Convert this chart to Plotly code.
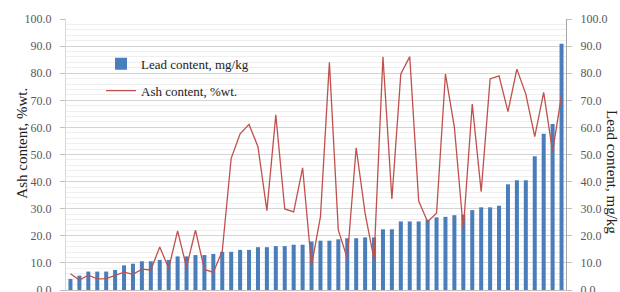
import plotly.graph_objects as go

samples = list(range(1, 57))

lead_mgkg = [4.1, 5.3, 6.8, 6.8, 6.8, 7.4, 9.1, 9.7, 10.6, 10.6,
             11.1, 11.1, 12.4, 12.4, 12.9, 12.9, 13.3, 14.1, 14.1, 14.8,
             14.8, 15.8, 15.8, 16.2, 16.2, 16.7, 16.7, 17.9, 18.2, 18.2,
             18.7, 19.1, 19.1, 19.4, 19.4, 22.4, 22.4, 25.3, 25.3, 25.3,
             25.9, 26.8, 27.0, 27.6, 27.8, 29.5, 30.5, 30.5, 31.1, 39.0,
             40.5, 40.5, 49.4, 57.7, 61.3, 90.9]

ash_pct = [6.0, 3.7, 5.5, 4.1, 4.2, 5.3, 6.6, 5.8, 7.7, 7.4,
           15.9, 8.0, 21.8, 8.4, 22.1, 7.6, 6.5, 14.4, 48.6, 57.6,
           61.1, 52.9, 29.3, 64.6, 29.9, 28.8, 45.1, 9.0, 27.1, 84.0,
           22.1, 11.7, 52.5, 28.3, 11.3, 86.1, 33.6, 79.7, 86.1, 32.8,
           25.2, 28.3, 79.7, 60.0, 22.4, 68.6, 36.3, 77.9, 79.0, 65.8,
           81.5, 72.3, 56.6, 72.9, 51.0, 72.0]

tick_vals = [0, 10, 20, 30, 40, 50, 60, 70, 80, 90, 100]
tick_text = ["%.1f" % v for v in tick_vals]

left_title = "Ash content, %wt."
right_title = "Lead content, mg/kg"

SERIF = "Liberation Serif, Times New Roman, serif"

fig = go.Figure()
fig.add_trace(go.Bar(
    x=samples, y=lead_mgkg, name="Lead content, mg/kg",
    marker=dict(color="#4a7ebb", line=dict(width=0)),
    yaxis="y", legendgroup="a",
))
fig.add_trace(go.Scatter(
    x=samples, y=ash_pct, name="Ash content, %wt.", mode="lines",
    line=dict(color="#c0504d", width=1.3),
    yaxis="y2", legendgroup="b",
))

axis_common = dict(
    range=[0, 100], tickvals=tick_vals, ticktext=tick_text,
    tickfont=dict(family=SERIF, size=12, color="#595959"),
    ticks="outside", ticklen=5, tickcolor="#bfbfbf",
    ticklabelstandoff=6, ticklabeloverflow="allow",
    showline=True, zeroline=False, fixedrange=True, automargin=False,
)

fig.update_layout(
    width=620, height=292,
    margin=dict(l=66, r=54, t=19, b=2),
    paper_bgcolor="white", plot_bgcolor="white",
    bargap=0.55,
    showlegend=True,
    hovermode=False,
    legend=dict(
        x=0.07, y=0.89, xanchor="left", yanchor="top",
        font=dict(family=SERIF, size=13, color="#222222"),
        bgcolor="rgba(0,0,0,0)", tracegroupgap=7,
        traceorder="grouped",
    ),
    xaxis=dict(
        range=[0.5, 56.5], showticklabels=False, ticks="",
        showgrid=False, showline=True, linecolor="#bfbfbf",
        zeroline=False, fixedrange=True, automargin=False,
    ),
    yaxis=dict(
        side="right",
        showgrid=True, gridcolor="#d4d4d4", gridwidth=1,
        minor=dict(dtick=2, showgrid=True, gridcolor="#efefef", gridwidth=1),
        linecolor="#a6a6a6",
        **axis_common,
    ),
    yaxis2=dict(
        side="left", overlaying="y",
        showgrid=False, linecolor="#d9d9d9",
        **axis_common,
    ),
    annotations=[
        dict(text=left_title, textangle=-90, xref="paper", yref="paper",
             x=-0.088, y=0.54, xanchor="center", yanchor="middle",
             showarrow=False,
             font=dict(family=SERIF, size=15, color="#222222")),
        dict(text=right_title, textangle=90, xref="paper", yref="paper",
             x=1.092, y=0.435, xanchor="center", yanchor="middle",
             showarrow=False,
             font=dict(family=SERIF, size=15, color="#222222")),
    ],
)

fig.write_html(
    "out.html",
    config={"displayModeBar": False},
    post_script="document.body.style.margin='0';document.body.style.overflow='hidden';",
)
